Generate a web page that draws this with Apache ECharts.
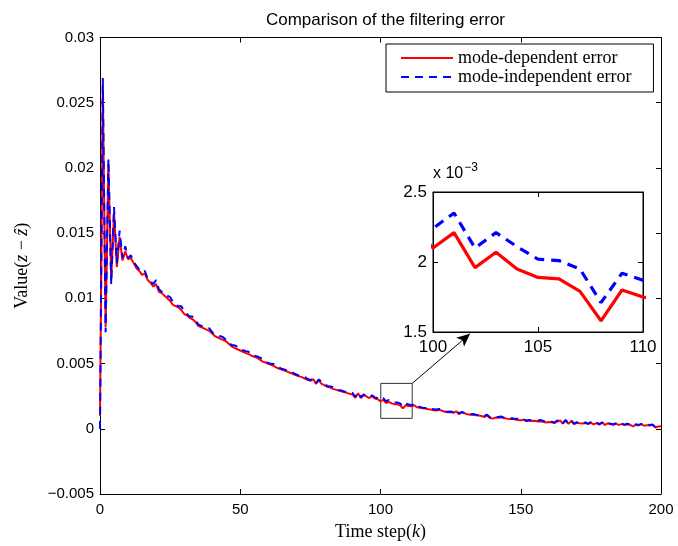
<!DOCTYPE html>
<html>
<head>
<meta charset="utf-8">
<script src="https://cdn.jsdelivr.net/npm/echarts@6/dist/echarts.min.js"></script>
<style>html,body{margin:0;padding:0;background:#fff}#c{width:678px;height:546px}</style>
</head>
<body>
<div id="c"></div>
<script>
// ---- data ----
const modeDependent = [
0.0010,0.0263,0.0078,0.0203,0.0114,0.0166,0.0124,0.0147,0.0129,0.0136,
0.0130,0.0131,0.0127,0.0123,0.0121,0.0118,0.0119,0.0114,0.0112,0.0109,
0.0111,0.0105,0.0104,0.0102,0.0100,0.0098,0.0095,0.0094,0.0093,0.0091,
0.0088,0.0087,0.0085,0.0084,0.0082,0.0079,0.0078,0.0077,0.0076,0.0075,
0.0073,0.0071,0.0070,0.0069,0.0068,0.0067,0.0065,0.0063,0.0062,0.0061,
0.00600,0.00590,0.00580,0.00572,0.00560,0.00552,0.00545,0.00530,0.00515,0.00508,
0.00498,0.00490,0.00480,0.00468,0.00460,0.00452,0.00445,0.00436,0.00428,0.00418,
0.00410,0.00402,0.00396,0.00385,0.00376,0.00368,0.00380,0.00345,0.00372,0.00345,
0.00335,0.00322,0.00318,0.00306,0.00300,0.00293,0.00288,0.00282,0.00275,0.00268,
0.00262,0.00238,0.00272,0.00236,0.00258,0.00248,0.00236,0.00250,0.00232,0.00226,
0.00210,0.00221,0.00196,0.00207,0.00195,0.00189,0.00188,0.00179,0.00158,0.00180,
0.00175,0.00172,0.00180,0.00165,0.00162,0.00158,0.00155,0.00150,0.00148,0.00142,
0.00140,0.00145,0.00138,0.00130,0.00126,0.00128,0.00122,0.00134,0.00112,0.00125,
0.00118,0.00112,0.00108,0.00110,0.00104,0.00102,0.00098,0.00090,0.00102,0.00082,
0.00078,0.00086,0.00084,0.00088,0.00082,0.00078,0.00074,0.00076,0.00072,0.00068,
0.00066,0.00070,0.00058,0.00064,0.00060,0.00062,0.00056,0.00058,0.00054,0.00048,
0.00052,0.00050,0.00044,0.00056,0.00064,0.00040,0.00062,0.00038,0.00060,0.00036,
0.00046,0.00042,0.00040,0.00044,0.00036,0.00046,0.00034,0.00044,0.00032,0.00046,
0.00030,0.00042,0.00034,0.00030,0.00038,0.00030,0.00036,0.00028,0.00034,0.00030,
0.00018,0.00030,0.00026,0.00034,0.00024,0.00028,0.00026,0.00030,0.00010,0.00018,
0.00020
];
const modeIndependent = [
0.0000,0.0269,0.0074,0.0207,0.0111,0.0170,0.0127,0.0152,0.0131,0.0140,
0.0131,0.0133,0.0128,0.0125,0.0122,0.0120,0.0121,0.0115,0.0113,0.0111,
0.0114,0.0107,0.0105,0.0103,0.0102,0.0101,0.0097,0.0095,0.0094,0.0094,
0.0090,0.0088,0.0086,0.0086,0.0084,0.0080,0.0079,0.0078,0.0078,0.0077,
0.0074,0.0072,0.0071,0.0071,0.0070,0.0068,0.0066,0.0064,0.0064,0.0063,
0.00608,0.00602,0.00594,0.00590,0.00568,0.00560,0.00555,0.00545,0.00535,0.00515,
0.00505,0.00498,0.00496,0.00484,0.00468,0.00458,0.00452,0.00450,0.00442,0.00426,
0.00416,0.00408,0.00410,0.00398,0.00382,0.00374,0.00386,0.00352,0.00378,0.00360,
0.00352,0.00328,0.00324,0.00320,0.00314,0.00298,0.00294,0.00286,0.00284,0.00280,
0.00276,0.00244,0.00278,0.00242,0.00264,0.00254,0.00244,0.00256,0.00240,0.00236,
0.00224,0.00235,0.00210,0.00221,0.00211,0.00202,0.00201,0.00195,0.00171,0.00192,
0.00187,0.00180,0.00192,0.00172,0.00168,0.00162,0.00160,0.00156,0.00152,0.00150,
0.00148,0.00152,0.00144,0.00134,0.00130,0.00132,0.00126,0.00142,0.00118,0.00130,
0.00122,0.00116,0.00112,0.00114,0.00108,0.00106,0.00104,0.00098,0.00108,0.00088,
0.00082,0.00090,0.00090,0.00094,0.00086,0.00082,0.00078,0.00080,0.00076,0.00076,
0.00078,0.00076,0.00062,0.00068,0.00064,0.00066,0.00062,0.00068,0.00060,0.00052,
0.00056,0.00054,0.00048,0.00062,0.00072,0.00044,0.00068,0.00042,0.00066,0.00040,
0.00050,0.00046,0.00046,0.00048,0.00040,0.00052,0.00040,0.00048,0.00036,0.00050,
0.00034,0.00046,0.00038,0.00034,0.00042,0.00034,0.00040,0.00032,0.00038,0.00034,
0.00022,0.00034,0.00030,0.00038,0.00028,0.00032,0.00030,0.00032,0.00014,0.00008,
0.00016
];
const mainYTickLabels = ['\u22120.005','0','0.005','0.01','0.015','0.02','0.025','0.03'];
const mainXTickLabels = ['0','50','100','150','200'];
const insetYTickLabels = ['1.5','2','2.5'];
const insetXTickLabels = ['100','105','110'];
const seriesNames = ['mode-dependent error','mode-independent error'];

const steps = modeDependent.map((_, i) => i);
const redPairs = steps.map(k => [k, modeDependent[k]]);
const bluePairs = steps.map(k => [k, modeIndependent[k]]);

const SANS = 'Liberation Sans, Arial, sans-serif';
const SERIF = 'Liberation Serif, Times New Roman, serif';

function axisCommon(extra) {
  return Object.assign({
    type: 'value',
    axisLine: { show: true, onZero: false, lineStyle: { color: '#000', width: 1 } },
    axisTick: { show: true, inside: true, length: 5, lineStyle: { color: '#000' } },
    splitLine: { show: false }
  }, extra);
}

const chart = echarts.init(document.getElementById('c'), null, { renderer: 'canvas' });
chart.setOption({
  animation: false,
  backgroundColor: '#fff',
  title: {
    text: 'Comparison of the filtering error',
    left: 380.5, top: 7, textAlign: 'center',
    textStyle: { fontFamily: SANS, fontSize: 17, fontWeight: 'normal', color: '#000' }
  },
  legend: {
    data: seriesNames.map(n => ({ name: n, itemStyle: { opacity: 0 } })),
    orient: 'vertical',
    left: 386, top: 44,
    padding: [5, 22, 6, 14],
    itemGap: 1, itemWidth: 52, itemHeight: 12,
    borderColor: '#000', borderWidth: 1, backgroundColor: '#fff',
    itemStyle: { opacity: 0 },
    textStyle: { fontFamily: SERIF, fontSize: 18, color: '#000', width: 190, overflow: 'truncate' }
  },
  grid: [
    { left: 100, right: 17, top: 37.5, bottom: 51, containLabel: false },
    { left: 433, top: 192, width: 210, height: 140, show: true, backgroundColor: '#fff', borderColor: '#000', borderWidth: 1, z: 5 }
  ],
  xAxis: [
    axisCommon({
      gridIndex: 0, min: 0, max: 200, interval: 50, position: 'bottom',
      axisLabel: { margin: 8, fontFamily: SANS, fontSize: 15, color: '#000',
        formatter: v => mainXTickLabels[Math.round(v / 50)] },
      name: '{r|Time step(}{i|k}{r|)}', nameLocation: 'middle', nameGap: 29,
      nameTextStyle: { rich: {
        r: { fontFamily: SERIF, fontSize: 18, color: '#000' },
        i: { fontFamily: SERIF, fontSize: 18, fontStyle: 'italic', color: '#000' } } }
    }),
    axisCommon({ gridIndex: 0, min: 0, max: 200, interval: 50, position: 'top', axisLabel: { show: false } }),
    axisCommon({
      gridIndex: 1, min: 100, max: 110, interval: 5, position: 'bottom', z: 6,
      axisLabel: { margin: 7, fontFamily: SANS, fontSize: 17, color: '#000',
        formatter: v => insetXTickLabels[Math.round((v - 100) / 5)] }
    }),
    axisCommon({ gridIndex: 1, min: 100, max: 110, interval: 5, position: 'top', axisLabel: { show: false }, z: 6 })
  ],
  yAxis: [
    axisCommon({
      gridIndex: 0, min: -0.005, max: 0.03, interval: 0.005, position: 'left',
      axisLabel: { margin: 6, fontFamily: SANS, fontSize: 15, color: '#000',
        formatter: v => mainYTickLabels[Math.round((v + 0.005) / 0.005)] },
      name: '{r|Value(}{i|z}{r| \u2212 }{i|\u1E91}{r|)}', nameLocation: 'middle', nameGap: 69, nameRotate: 90,
      nameTextStyle: { rich: {
        r: { fontFamily: SERIF, fontSize: 18, color: '#000' },
        i: { fontFamily: SERIF, fontSize: 18, fontStyle: 'italic', color: '#000' } } }
    }),
    axisCommon({ gridIndex: 0, min: -0.005, max: 0.03, interval: 0.005, position: 'right', axisLabel: { show: false } }),
    axisCommon({
      gridIndex: 1, min: 0.0015, max: 0.0025, interval: 0.0005, position: 'left', z: 6,
      axisLabel: { margin: 6, fontFamily: SANS, fontSize: 17, color: '#000',
        formatter: v => insetYTickLabels[Math.round((v - 0.0015) / 0.0005)] },
      name: '{a|x 10}{s|\u22123}', nameLocation: 'end', nameGap: 6,
      nameTextStyle: { align: 'left', rich: {
        a: { fontFamily: SANS, fontSize: 16, color: '#000' },
        s: { fontFamily: SANS, fontSize: 12, color: '#000', padding: [0, 0, 12, 1] } } }
    }),
    axisCommon({ gridIndex: 1, min: 0.0015, max: 0.0025, interval: 0.0005, position: 'right', axisLabel: { show: false }, z: 6 })
  ],
  series: [
    {
      name: seriesNames[0], type: 'line', xAxisIndex: 0, yAxisIndex: 0,
      data: redPairs, symbol: 'none', smooth: false, z: 2,
      lineStyle: { color: '#ff0000', width: 2 }, itemStyle: { color: '#ff0000' },
      markArea: {
        silent: true,
        itemStyle: { color: 'rgba(0,0,0,0)', borderColor: '#333', borderWidth: 1 },
        data: [[{ coord: [100.1, 0.00348] }, { coord: [111.3, 0.0008] }]]
      },
      markLine: {
        silent: true, symbol: ['none', 'arrow'], symbolSize: [9, 13],
        lineStyle: { color: '#000', width: 1, type: 'solid' }, label: { show: false },
        data: [[{ coord: [111.3, 0.00348] }, { coord: [131.9, 0.00728] }]]
      }
    },
    {
      name: seriesNames[1], type: 'line', xAxisIndex: 0, yAxisIndex: 0,
      data: bluePairs, symbol: 'none', z: 3,
      lineStyle: { color: '#0000ff', width: 2, type: [8, 6] }, itemStyle: { color: '#0000ff' }
    },
    {
      name: seriesNames[0], type: 'line', xAxisIndex: 2, yAxisIndex: 2,
      data: redPairs, symbol: 'none', clip: true, z: 7,
      lineStyle: { color: '#ff0000', width: 3.2 }, itemStyle: { color: '#ff0000' }
    },
    {
      name: seriesNames[1], type: 'line', xAxisIndex: 2, yAxisIndex: 2,
      data: bluePairs, symbol: 'none', clip: true, z: 8,
      lineStyle: { color: '#0000ff', width: 3.2, type: [10, 7] }, itemStyle: { color: '#0000ff' }
    }
  ]
});
</script>
</body>
</html>
